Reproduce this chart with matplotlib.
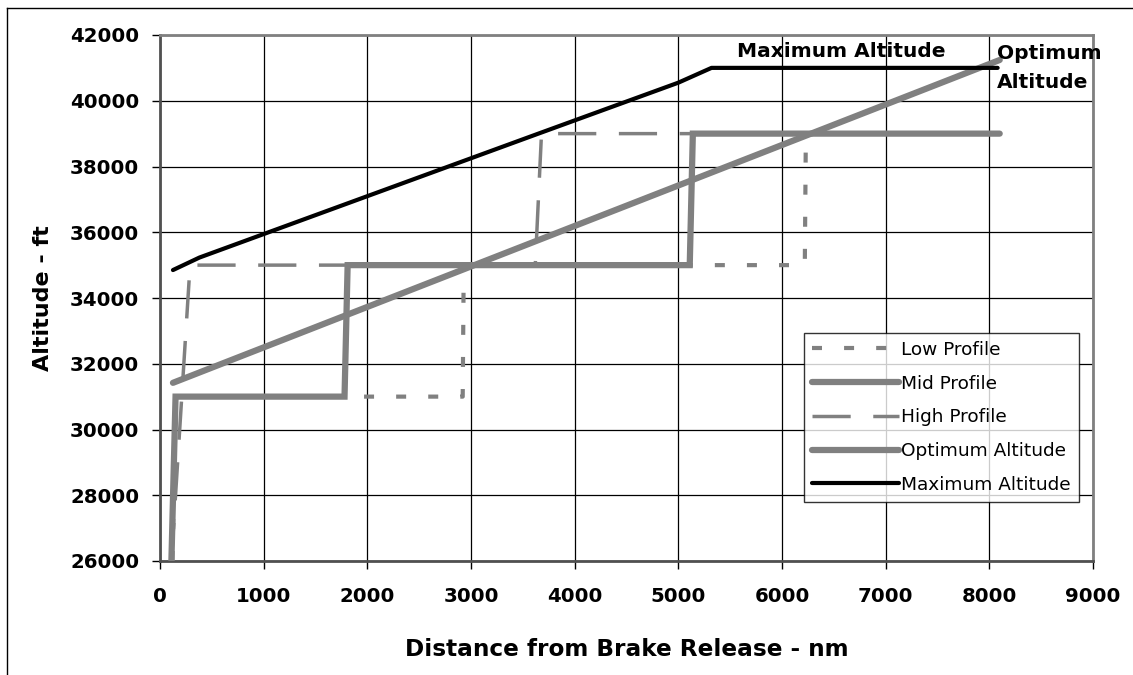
import matplotlib
matplotlib.use("Agg")
import matplotlib.pyplot as plt
from matplotlib.lines import Line2D

plt.rcParams['font.family'] = ['DejaVu Sans']

# ---- data (distance nm, altitude ft) ----
low_x = [120, 150, 2920, 2930, 6220, 6230, 8100]
low_y = [26000, 31000, 31000, 35000, 35000, 39000, 39000]

mid_x = [110, 150, 1780, 1810, 5110, 5140, 8100]
mid_y = [26000, 31000, 31000, 35000, 35000, 39000, 39000]

high_x = [110, 290, 3620, 3680, 8100]
high_y = [26000, 35000, 35000, 39000, 39000]

opt_x = [125, 8100]
opt_y = [31420, 41240]

max_x = [125, 380, 3650, 5000, 5320, 8080]
max_y = [34850, 35230, 39000, 40550, 41000, 41000]

x_ticks = [0, 1000, 2000, 3000, 4000, 5000, 6000, 7000, 8000, 9000]
y_ticks = [26000, 28000, 30000, 32000, 34000, 36000, 38000, 40000, 42000]

GRAY = '#808080'

fig = plt.figure(figsize=(11.33, 6.75), dpi=100)
ax = fig.add_axes([160/1133, 1-561/675, (1093-160)/1133, (561-35)/675])

ax.plot(opt_x, opt_y, color=GRAY, lw=4.5, solid_capstyle='round', label='Optimum Altitude', zorder=3)
ax.plot(high_x, high_y, color=GRAY, lw=2.5, dashes=(11, 6.5), label='High Profile', zorder=3)
ax.plot(low_x, low_y, color=GRAY, lw=3, dashes=(2.4, 5.3), label='Low Profile', zorder=3)
ax.plot(mid_x, mid_y, color=GRAY, lw=4.5, solid_capstyle='round', solid_joinstyle='miter', label='Mid Profile', zorder=4)
ax.plot(max_x, max_y, color='black', lw=3, solid_capstyle='round', label='Maximum Altitude', zorder=5)

ax.set_xlim(0, 9000)
ax.set_ylim(26000, 42000)
ax.set_xticks(x_ticks)
ax.set_yticks(y_ticks)
ax.grid(True, color='black', lw=0.9)
ax.set_axisbelow(True)
for s in ax.spines.values():
    s.set_color(GRAY)
    s.set_linewidth(2)
ax.spines['left'].set_color('#505050')
ax.spines['bottom'].set_color('#505050')
ax.tick_params(direction='out', length=6, width=1, color='black')
ax.tick_params(axis='x', pad=13)
ax.tick_params(axis='y', pad=9)
for lab in ax.get_xticklabels() + ax.get_yticklabels():
    lab.set_fontweight('bold')
    lab.set_fontsize(14.2)

ax.set_xlabel('Distance from Brake Release - nm', fontsize=16.7, fontweight='bold', labelpad=23)
ax.set_ylabel('Altitude - ft', fontsize=16, fontweight='bold', labelpad=12)

ax.text(6567, 41483, 'Maximum Altitude', ha='center', va='center', fontsize=14.5, fontweight='bold', zorder=6)
ax.text(8070, 41000, 'Optimum\nAltitude', ha='left', va='center', fontsize=14.5, fontweight='bold',
        linespacing=1.65, zorder=6, clip_on=False)

h, l = ax.get_legend_handles_labels()
order = ['Low Profile', 'Mid Profile', 'High Profile', 'Optimum Altitude', 'Maximum Altitude']
hh = [h[l.index(o)] for o in order]
leg = ax.legend(hh, order, loc='lower right', bbox_to_anchor=((1079-160)/933, (561-502)/526),
                fontsize=13.3, frameon=True, fancybox=False, edgecolor='black', handlelength=4.7,
                handletextpad=0.1, borderpad=0.45, labelspacing=0.85, borderaxespad=0)
leg.get_frame().set_linewidth(1)

# outer frame
fig.add_artist(Line2D([7/1133, 1], [1-8/675, 1-8/675], transform=fig.transFigure, color='black', lw=1))
fig.add_artist(Line2D([7/1133, 7/1133], [0, 1-8/675], transform=fig.transFigure, color='black', lw=1))

fig.savefig('out.png', dpi=100)
